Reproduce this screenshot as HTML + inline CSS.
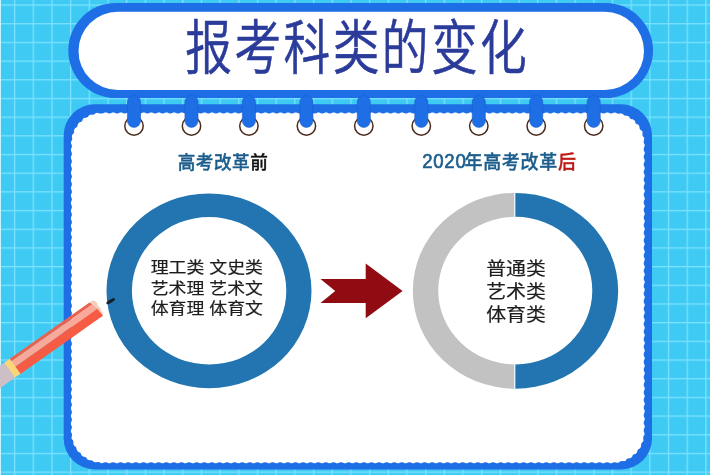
<!DOCTYPE html>
<html lang="zh-CN">
<head>
<meta charset="utf-8">
<title>报考科类的变化</title>
<style>
html,body{margin:0;padding:0;width:710px;height:475px;overflow:hidden;background:#3ecaf3;}
svg{will-change:transform;display:block;position:absolute;left:0;top:0;}
text{font-family:"Liberation Sans","Noto Sans CJK SC",sans-serif;}
</style>
</head>
<body>
<svg width="710" height="475" viewBox="0 0 710 475">
  <defs>
    <pattern id="grid" x="13.95" y="4.4" width="18.684" height="18.684" patternUnits="userSpaceOnUse">
      <rect x="0" y="0" width="1.3" height="18.684" fill="#7be1ff"/>
      <rect x="0" y="0" width="18.684" height="1.3" fill="#7be1ff"/>
    </pattern>
    </defs>
  <!-- background -->
  <rect x="0" y="0" width="710" height="475" fill="#3ecaf3"/>
  <rect x="0" y="0" width="710" height="475" fill="url(#grid)"/>
  <rect x="0" y="0" width="1" height="475" fill="#c8f2ff"/>

  <!-- notepad -->
  <rect x="63.7" y="104.3" width="588.3" height="365.1" rx="31" ry="31" fill="#1e6ee6"/>
  <rect x="70.9" y="112.4" width="573.8" height="350.8" rx="31" ry="31" fill="#ffffff"/>
  <rect x="68.5" y="110" width="578.6" height="355.6" rx="33.4" ry="33.4" fill="none" stroke="#1e6ee6" stroke-width="6.8" stroke-linecap="round" stroke-dasharray="0 7.6"/>

  <!-- title pill -->
  <rect x="68.3" y="3" width="584.7" height="95.1" rx="47.5" ry="47.5" fill="#1e6ee6"/>
  <rect x="78.5" y="11.7" width="565.5" height="78.4" rx="39.2" ry="39.2" fill="#ffffff"/>
  <g>
  <text transform="translate(185.3,69.4) scale(1,1.255)" x="0" y="0" font-size="46.7" letter-spacing="2.45" font-weight="350" fill="#2b3b9a" stroke="#2b3b9a" stroke-width="0.5">报考科类的变化</text>
  </g>

  <!-- rings -->
  <g id="rings">
    <g transform="translate(134,0)"><circle cx="0" cy="126" r="9.2" fill="#fff" stroke="#4a2a1c" stroke-width="1.5"/> <rect x="-6.55" y="95.5" width="13.1" height="31.9" rx="6.55" fill="#1e6ee6" stroke="#1c5ccc" stroke-width="0.6"/></g>
    <g transform="translate(191.5,0)"><circle cx="0" cy="126" r="9.2" fill="#fff" stroke="#4a2a1c" stroke-width="1.5"/> <rect x="-6.55" y="95.5" width="13.1" height="31.9" rx="6.55" fill="#1e6ee6" stroke="#1c5ccc" stroke-width="0.6"/></g>
    <g transform="translate(248.9,0)"><circle cx="0" cy="126" r="9.2" fill="#fff" stroke="#4a2a1c" stroke-width="1.5"/> <rect x="-6.55" y="95.5" width="13.1" height="31.9" rx="6.55" fill="#1e6ee6" stroke="#1c5ccc" stroke-width="0.6"/></g>
    <g transform="translate(306.4,0)"><circle cx="0" cy="126" r="9.2" fill="#fff" stroke="#4a2a1c" stroke-width="1.5"/> <rect x="-6.55" y="95.5" width="13.1" height="31.9" rx="6.55" fill="#1e6ee6" stroke="#1c5ccc" stroke-width="0.6"/></g>
    <g transform="translate(363.8,0)"><circle cx="0" cy="126" r="9.2" fill="#fff" stroke="#4a2a1c" stroke-width="1.5"/> <rect x="-6.55" y="95.5" width="13.1" height="31.9" rx="6.55" fill="#1e6ee6" stroke="#1c5ccc" stroke-width="0.6"/></g>
    <g transform="translate(421.3,0)"><circle cx="0" cy="126" r="9.2" fill="#fff" stroke="#4a2a1c" stroke-width="1.5"/> <rect x="-6.55" y="95.5" width="13.1" height="31.9" rx="6.55" fill="#1e6ee6" stroke="#1c5ccc" stroke-width="0.6"/></g>
    <g transform="translate(478.8,0)"><circle cx="0" cy="126" r="9.2" fill="#fff" stroke="#4a2a1c" stroke-width="1.5"/> <rect x="-6.55" y="95.5" width="13.1" height="31.9" rx="6.55" fill="#1e6ee6" stroke="#1c5ccc" stroke-width="0.6"/></g>
    <g transform="translate(536.2,0)"><circle cx="0" cy="126" r="9.2" fill="#fff" stroke="#4a2a1c" stroke-width="1.5"/> <rect x="-6.55" y="95.5" width="13.1" height="31.9" rx="6.55" fill="#1e6ee6" stroke="#1c5ccc" stroke-width="0.6"/></g>
    <g transform="translate(593.7,0)"><circle cx="0" cy="126" r="9.2" fill="#fff" stroke="#4a2a1c" stroke-width="1.5"/> <rect x="-6.55" y="95.5" width="13.1" height="31.9" rx="6.55" fill="#1e6ee6" stroke="#1c5ccc" stroke-width="0.6"/></g>
  </g>

  <!-- labels -->
  <g>
  <text transform="translate(177.7,169.0) scale(1,1.06)" font-size="17.6" letter-spacing="0.55" font-weight="500" fill="#1c5e8d" stroke="#1c5e8d" stroke-width="0.35">高考改革<tspan fill="#111" stroke="#111">前</tspan></text>
  <text transform="translate(421.8,169.0) scale(1,1.06)" font-size="18" letter-spacing="0.7" font-weight="500" fill="#1c5e8d" stroke="#1c5e8d" stroke-width="0.35"><tspan x="0.5" dy="-0.5" font-size="18.6" letter-spacing="0.7" stroke-width="0.6">2020</tspan><tspan x="42.7" dy="0.5">年高考改革</tspan><tspan fill="#bf1a17" stroke="#bf1a17">后</tspan></text>
  </g>

  <!-- left donut -->
  <path fill-rule="evenodd" fill="#2275b0" d="M106.5 290.8 a102.5 97.4 0 1 0 205 0 a102.5 97.4 0 1 0 -205 0 Z M131.9 290.75 a77.2 73.75 0 1 0 154.4 0 a77.2 73.75 0 1 0 -154.4 0 Z"/>
  <g font-size="15.7" fill="#1e1e1e" stroke="#1e1e1e" stroke-width="0.2">
    <text transform="translate(150.7,273.1) scale(1.14,1)">理工类 文史类</text>
    <text transform="translate(150.7,293.8) scale(1.14,1)">艺术理 艺术文</text>
    <text transform="translate(150.7,314.3) scale(1.14,1)">体育理 体育文</text>
  </g>

  <!-- arrow -->
  <polygon points="320.5,279 365.7,279 365.7,263.6 402.6,291.1 365.7,318.2 365.7,303 320.5,303 335.2,291.1" fill="#900b12"/>

  <!-- right donut -->
  <path d="M515.4 192.9 A102.6 97.9 0 0 0 515.4 388.7 L515.4 364.4 A77.2 73.8 0 0 1 515.4 216.8 Z" fill="#c2c2c2"/>
  <path d="M515.4 192.9 A102.8 97.9 0 0 1 515.4 388.7 L515.4 364.4 A76.9 73.8 0 0 0 515.4 216.8 Z" fill="#2275b0"/>
  <rect x="514" y="192" width="1" height="26" fill="#e8f4fb"/>
  <rect x="514" y="363" width="1" height="27" fill="#e8f4fb"/>
  <g font-size="17.8" fill="#1e1e1e" stroke="#1e1e1e" stroke-width="0.2">
    <text transform="translate(486.2,275.3) scale(1.118,1)">普通类</text>
    <text transform="translate(486.2,297.9) scale(1.118,1)">艺术类</text>
    <text transform="translate(486.2,320.5) scale(1.118,1)">体育类</text>
  </g>

  <!-- pencil -->
  <g id="pencil" transform="translate(89.5,302.6) rotate(-35.2)">
    <polygon points="0,0 4.5,0.3 6.2,3.8 5,7 5.8,10.5 4.6,14.2 5.2,16.6 3.4,18.4 0,18.4" fill="#f2cfba"/>
    <polygon points="-98,0 0,0 1.2,3.1 -98,3.1" fill="#e8624d"/>
    <polygon points="-98,3.1 1.2,3.1 2.8,9.6 -98,9.6" fill="#f8a999"/>
    <polygon points="-98,9.6 2.8,9.6 3.4,18.4 -98,18.4" fill="#f65b44"/>
    <rect x="-104.5" y="0" width="7" height="18.4" fill="#fcd57b"/>
    <rect x="-135" y="0" width="30.6" height="18.4" fill="#cdbfc6"/>
  </g>
  <ellipse cx="110.7" cy="301.1" rx="5" ry="1.7" fill="#13202b" transform="rotate(-32.5 110.7 301.1)"/>
</svg>
</body>
</html>
